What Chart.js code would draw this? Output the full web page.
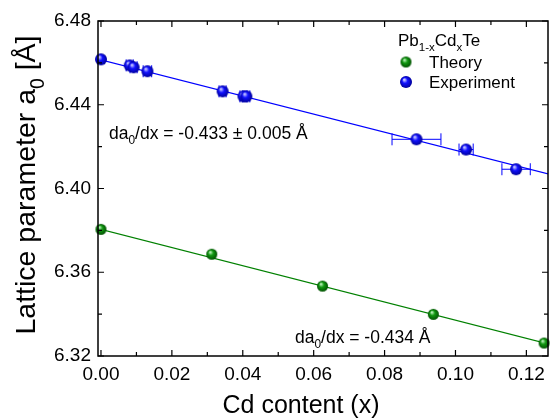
<!DOCTYPE html>
<html>
<head>
<meta charset="utf-8">
<script src="https://cdn.jsdelivr.net/npm/chart.js@4.4.0/dist/chart.umd.min.js"></script>
<style>
    html, body { margin: 0; padding: 0; background: #fff; overflow: hidden; }
    #wrap { width: 553px; height: 419px; }
</style>
</head>
<body>
<div id="wrap"><canvas id="latticeChart" width="553" height="419"></canvas></div>
<script>
const FONT = '"Liberation Sans", Arial, Helvetica, sans-serif';

// Theory (supercell calculations), Cd content vs a0 [A]
const theoryX = [0.0, 0.03125, 0.0625, 0.09375, 0.125];
const theoryY = [6.3805, 6.3686, 6.3534, 6.3399, 6.3262];

// Experiment, with horizontal error on x
const expX = [0.0, 0.0081, 0.0092, 0.0131, 0.0343, 0.0402, 0.0410, 0.0890, 0.1030, 0.1171];
const expY = [6.4617, 6.4588, 6.4579, 6.4560, 6.4464, 6.4440, 6.4440, 6.4235, 6.4186, 6.4092];
const expXErr = [0.0, 0.0010, 0.0010, 0.0012, 0.0010, 0.0010, 0.0010, 0.0069, 0.0020, 0.0040];

// Linear fits (end points)
const fitX = [-0.001, 0.127];
const expFitY = [6.4619, 6.4066];
const theoryFitY = [6.3809, 6.3254];

// Axis ticks
const xTicks = [0.00, 0.02, 0.04, 0.06, 0.08, 0.10, 0.12];
const xMinorTicks = [0.01, 0.03, 0.05, 0.07, 0.09, 0.11];
const yTicks = [6.32, 6.36, 6.40, 6.44, 6.48];
const yMinorTicks = [6.34, 6.38, 6.42, 6.46];

const BLUE = '#0000ff';
const GREEN = '#008000';

function makeBall(radius, light, base, dark) {
    const size = radius * 2 + 2;
    const c = document.createElement('canvas');
    c.width = size;
    c.height = size;
    const g = c.getContext('2d');
    const m = size / 2;
    const grad = g.createRadialGradient(m - radius * 0.3, m - radius * 0.4, radius * 0.1, m, m, radius);
    grad.addColorStop(0, light);
    grad.addColorStop(0.4, base);
    grad.addColorStop(1, dark);
    g.fillStyle = grad;
    g.beginPath();
    g.arc(m, m, radius, 0, Math.PI * 2);
    g.fill();
    return c;
}

const blueBall = makeBall(6, '#c8c8ff', '#1010ff', '#00009a');
const greenBall = makeBall(5.5, '#b8f0b8', '#119911', '#005000');

function pairs(xs, ys) {
    return xs.map((x, i) => ({ x: x, y: ys[i] }));
}

function richWidth(ctx, parts, size) {
    let w = 0;
    parts.forEach(p => {
        ctx.font = `${p.sub ? size * 0.68 : size}px ${FONT}`;
        w += ctx.measureText(p.t).width;
    });
    return w;
}

function drawRich(ctx, parts, x, y, size) {
    let cx = x;
    parts.forEach(p => {
        const s = p.sub ? size * 0.68 : size;
        ctx.font = `${s}px ${FONT}`;
        ctx.fillText(p.t, cx, p.sub ? y + size * 0.3 : y);
        cx += ctx.measureText(p.t).width;
    });
}

const decorations = {
    id: 'decorations',
    beforeDatasetsDraw(chart) {
        // x error bars of the experiment
        const ctx = chart.ctx;
        const xs = chart.scales.x, ys = chart.scales.y;
        ctx.save();
        ctx.strokeStyle = BLUE;
        ctx.lineWidth = 1;
        expX.forEach((x, i) => {
            if (!expXErr[i]) return;
            const x0 = xs.getPixelForValue(x - expXErr[i]);
            const x1 = xs.getPixelForValue(x + expXErr[i]);
            const py = ys.getPixelForValue(expY[i]);
            ctx.beginPath();
            ctx.moveTo(x0, py); ctx.lineTo(x1, py);
            ctx.moveTo(x0, py - 6); ctx.lineTo(x0, py + 6);
            ctx.moveTo(x1, py - 6); ctx.lineTo(x1, py + 6);
            ctx.stroke();
        });
        ctx.restore();
    },
    afterDraw(chart) {
        const ctx = chart.ctx;
        const a = chart.chartArea;
        const xs = chart.scales.x, ys = chart.scales.y;
        ctx.save();

        // frame
        ctx.strokeStyle = '#000';
        ctx.lineWidth = 1.5;
        ctx.strokeRect(a.left, a.top, a.right - a.left, a.bottom - a.top);

        // inward ticks on all four sides
        ctx.lineWidth = 1.2;
        ctx.beginPath();
        const xTick = (v, len) => {
            const px = xs.getPixelForValue(v);
            ctx.moveTo(px, a.bottom); ctx.lineTo(px, a.bottom - len);
            ctx.moveTo(px, a.top); ctx.lineTo(px, a.top + len);
        };
        const yTick = (v, len) => {
            const py = ys.getPixelForValue(v);
            ctx.moveTo(a.left, py); ctx.lineTo(a.left + len, py);
            ctx.moveTo(a.right, py); ctx.lineTo(a.right - len, py);
        };
        xTicks.forEach(v => xTick(v, 6));
        xMinorTicks.forEach(v => xTick(v, 4));
        yTicks.forEach(v => yTick(v, 6));
        yMinorTicks.forEach(v => yTick(v, 4));
        ctx.stroke();

        ctx.fillStyle = '#000';
        ctx.textBaseline = 'alphabetic';
        ctx.textAlign = 'left';

        // axis titles
        ctx.font = `25px ${FONT}`;
        ctx.textAlign = 'center';
        ctx.fillText('Cd content (x)', 301, 413);
        ctx.textAlign = 'left';

        const yTitle = [{ t: 'Lattice parameter a' }, { t: '0', sub: true }, { t: ' [Å]' }];
        const yw = richWidth(ctx, yTitle, 28.5);
        ctx.save();
        ctx.translate(35, 185);
        ctx.rotate(-Math.PI / 2);
        drawRich(ctx, yTitle, -yw / 2, 0, 28.5);
        ctx.restore();

        // legend
        drawRich(ctx, [{ t: 'Pb' }, { t: '1-x', sub: true }, { t: 'Cd' }, { t: 'x', sub: true }, { t: 'Te' }], 398, 46, 17);
        ctx.drawImage(greenBall, 406 - greenBall.width / 2, 62 - greenBall.height / 2);
        ctx.drawImage(blueBall, 406 - blueBall.width / 2, 82 - blueBall.height / 2);
        ctx.font = `17px ${FONT}`;
        ctx.fillText('Theory', 429, 68);
        ctx.fillText('Experiment', 429, 88);

        // slope annotations
        drawRich(ctx, [{ t: 'da' }, { t: '0', sub: true }, { t: '/dx = -0.433 ± 0.005 Å' }], 109, 139, 17.5);
        drawRich(ctx, [{ t: 'da' }, { t: '0', sub: true }, { t: '/dx = -0.434 Å' }], 295, 343, 17.5);

        ctx.restore();
    }
};

const ctx = document.getElementById('latticeChart').getContext('2d');
const latticeChart = new Chart(ctx, {
    type: 'scatter',
    data: {
        datasets: [
            {
                label: 'Experiment fit',
                type: 'line',
                data: pairs(fitX, expFitY),
                borderColor: BLUE,
                borderWidth: 1.2,
                pointRadius: 0,
                fill: false,
                order: 2
            },
            {
                label: 'Theory fit',
                type: 'line',
                data: pairs(fitX, theoryFitY),
                borderColor: GREEN,
                borderWidth: 1.2,
                pointRadius: 0,
                fill: false,
                order: 2
            },
            {
                label: 'Theory',
                data: pairs(theoryX, theoryY),
                pointStyle: greenBall,
                clip: false,
                order: 1
            },
            {
                label: 'Experiment',
                data: pairs(expX, expY),
                pointStyle: blueBall,
                clip: false,
                order: 1
            }
        ]
    },
    options: {
        responsive: false,
        animation: false,
        layout: { padding: { top: 21, right: 0, left: 0, bottom: 0 } },
        plugins: {
            legend: { display: false },
            tooltip: { enabled: false }
        },
        scales: {
            x: {
                type: 'linear',
                min: -0.00084,
                max: 0.1261,
                grid: { display: false, drawTicks: false },
                border: { display: false },
                afterBuildTicks: scale => { scale.ticks = xTicks.map(v => ({ value: v })); },
                afterFit: scale => { scale.height = 63; },
                ticks: {
                    color: '#000',
                    padding: 7,
                    maxRotation: 0,
                    font: { family: FONT, size: 19 },
                    callback: v => v.toFixed(2)
                }
            },
            y: {
                type: 'linear',
                min: 6.32,
                max: 6.48,
                grid: { display: false, drawTicks: false },
                border: { display: false },
                afterBuildTicks: scale => { scale.ticks = yTicks.map(v => ({ value: v })); },
                afterFit: scale => { scale.width = 98; },
                ticks: {
                    color: '#000',
                    padding: 7,
                    font: { family: FONT, size: 19 },
                    callback: v => v.toFixed(2)
                }
            }
        }
    },
    plugins: [decorations]
});
</script>
</body>
</html>
